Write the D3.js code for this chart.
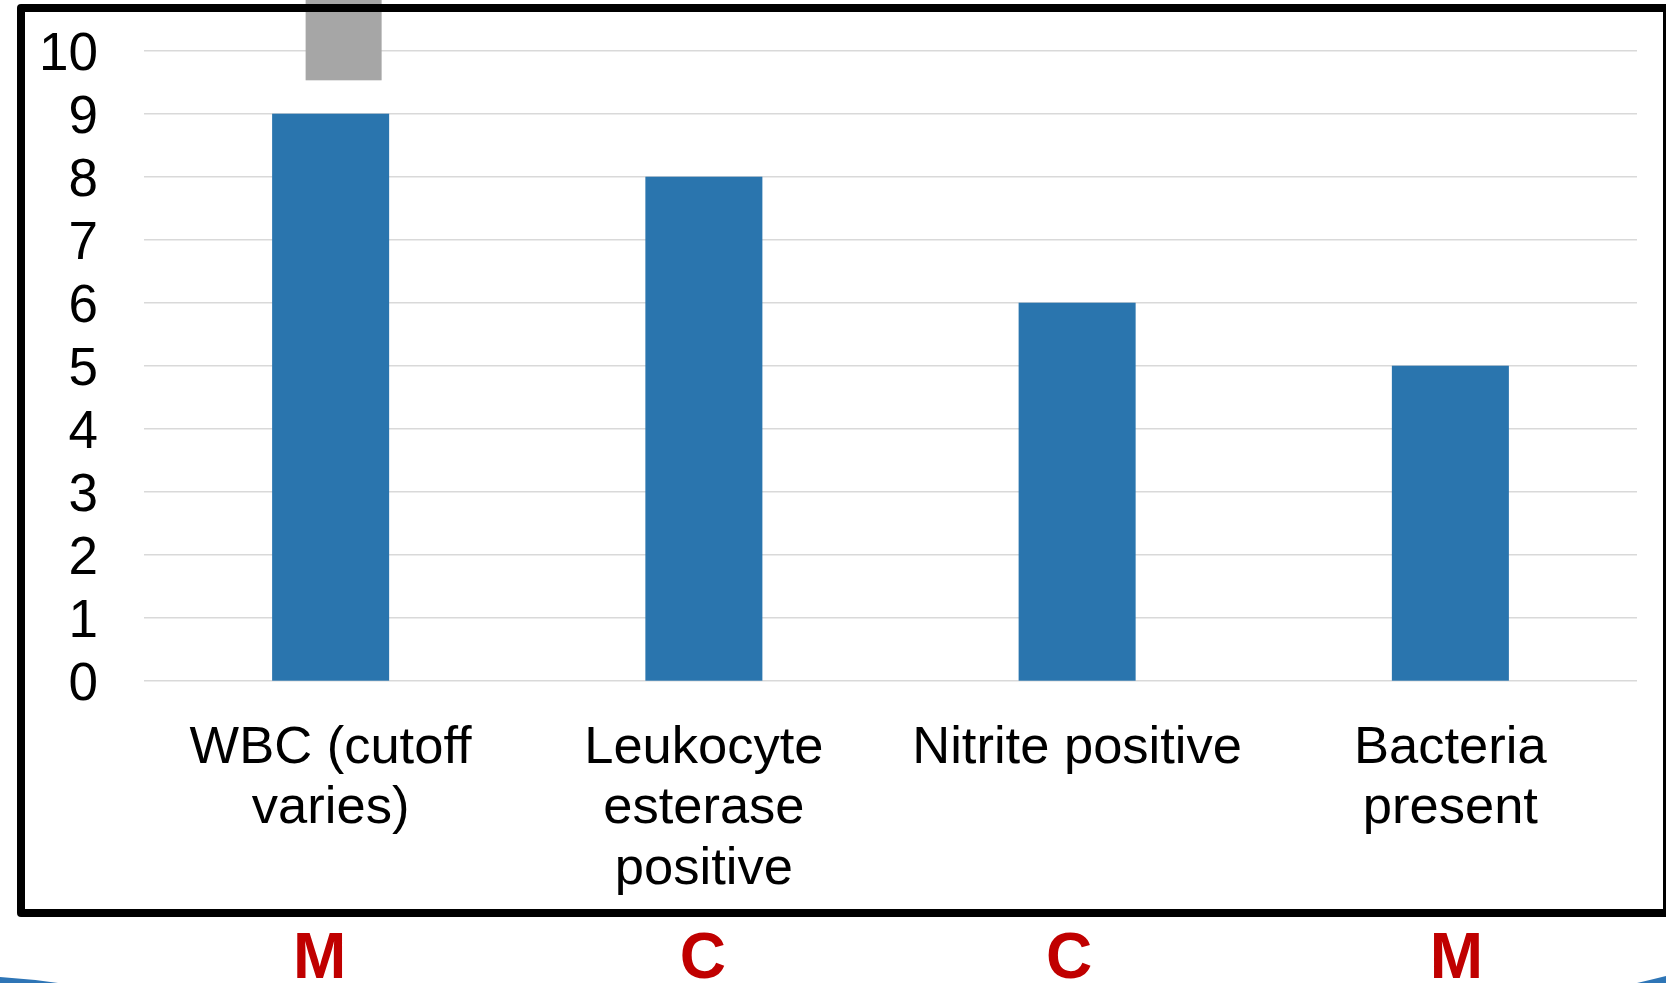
<!DOCTYPE html>
<html>
<head>
<meta charset="utf-8">
<script src="https://cdn.jsdelivr.net/npm/d3@7"></script>
<style>
  html, body { margin: 0; padding: 0; background: #fff; }
  svg { display: block; }
</style>
</head>
<body>
<svg id="chart" width="1666" height="983"></svg>
<script>
// ---- data ----
const categories = ["WBC (cutoff varies)", "Leukocyte esterase positive", "Nitrite positive", "Bacteria present"];
const categoryLines = [["WBC (cutoff", "varies)"], ["Leukocyte", "esterase", "positive"], ["Nitrite positive"], ["Bacteria", "present"]];
const values = [9, 8, 6, 5];
const yTicks = [0, 1, 2, 3, 4, 5, 6, 7, 8, 9, 10];
const letters = ["M", "C", "C", "M"];

// ---- layout ----
const W = 1666, H = 983;
const plot = { left: 144, right: 1637, top: 50.7, bottom: 680.7 };
const letterOffsets = [-11, -1, -8, 6]; // letters are offset from band centres
const svg = d3.select("#chart");
const font = "'Liberation Sans', Arial, Helvetica, sans-serif";

const x = d3.scaleBand()
  .domain(categories)
  .range([plot.left, plot.right])
  .paddingInner(0.6865)
  .paddingOuter(0.6865 / 2);

const y = d3.scaleLinear().domain([0, 10]).range([plot.bottom, plot.top]);

// gridlines
svg.append("g").selectAll("line").data(yTicks).join("line")
  .attr("x1", plot.left).attr("x2", plot.right)
  .attr("y1", d => y(d)).attr("y2", d => y(d))
  .attr("stroke", "#d9d9d9").attr("stroke-width", 1.6);

// y tick labels
svg.append("g").selectAll("text").data(yTicks).join("text")
  .attr("x", 98).attr("y", d => y(d))
  .attr("dy", "0.358em")
  .attr("text-anchor", "end")
  .attr("font-family", font).attr("font-size", 53)
  .attr("fill", "#000")
  .text(d => d);

// bars
svg.append("g").selectAll("rect").data(values).join("rect")
  .attr("x", (d, i) => x(categories[i]))
  .attr("width", x.bandwidth())
  .attr("y", d => y(d))
  .attr("height", d => y(0) - y(d))
  .attr("fill", "#2a75ae");

// gray box overlay (decorative)
const bx = x(categories[0]) + x.bandwidth() / 2 + 13;
svg.append("rect")
  .attr("x", bx - 38).attr("width", 76)
  .attr("y", 0).attr("height", y(9.53))
  .attr("fill", "#a6a6a6");

// category labels
const catG = svg.append("g");
categoryLines.forEach((lines, i) => {
  const cx = x(categories[i]) + x.bandwidth() / 2;
  const t = catG.append("text")
    .attr("text-anchor", "middle")
    .attr("font-family", font).attr("font-size", 52.5)
    .attr("fill", "#000");
  lines.forEach((ln, j) => {
    t.append("tspan").attr("x", cx).attr("y", 762.7 + j * 60.5).text(ln);
  });
});

// frame
svg.append("rect")
  .attr("x", 21).attr("y", 8)
  .attr("width", 1646).attr("height", 905)
  .attr("fill", "none").attr("stroke", "#000").attr("stroke-width", 8)
  .attr("stroke-linejoin", "round");

// red letters
svg.append("g").selectAll("text").data(letters).join("text")
  .attr("x", (d, i) => x(categories[i]) + x.bandwidth() / 2 + letterOffsets[i])
  .attr("y", 978)
  .attr("text-anchor", "middle")
  .attr("font-family", font).attr("font-size", 64).attr("font-weight", "bold")
  .attr("fill", "#c00000")
  .text(d => d);

// decorative blue swooshes at bottom corners
svg.append("path")
  .attr("d", `M0,977 Q30,979 58,983 L0,983 Z`)
  .attr("fill", "#2e75b6");
svg.append("path")
  .attr("d", `M1637,983 Q1650,980 1666,976 L1666,983 Z`)
  .attr("fill", "#2e75b6");
</script>
</body>
</html>
